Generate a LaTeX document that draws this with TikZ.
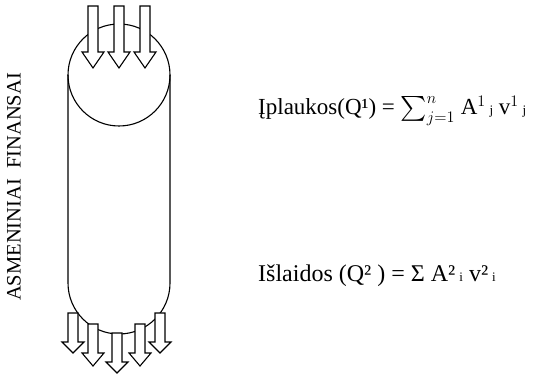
\RequirePackage{fix-cm}
\documentclass[tikz,border=0pt]{standalone}
\usepackage{exscale}
\usepackage{fontspec}
\setmainfont{Liberation Serif}
\newcommand\smalltxt[1]{{\fontsize{13}{13}\selectfont #1}}
\tikzset{
  body/.style={draw=black, line width=1.1pt},
  blockarrow/.style={draw=black, fill=white, line width=1.1pt, line join=miter},
  label/.style={inner sep=0pt, anchor=base west},
}
\newcommand\blockarr[5]{% center x, top y, head start y, tip y, name
  \draw[blockarrow] (#1-5,#2) -- (#1+5,#2) -- (#1+5,#3) -- (#1+11,#3) -- (#1,#4)
    -- (#1-11,#3) -- (#1-5,#3) -- cycle;
  \coordinate (#5) at (#1,#4);}
\begin{document}
\begin{tikzpicture}[x=1pt,y=-1pt]
\useasboundingbox (0,0) rectangle (533,374);
% body
\coordinate (c1) at (119,75);
\draw[body] (c1) circle[radius=51];
\coordinate (tl) at (68,75);
\coordinate (tr) at (170,75);
\coordinate (bl) at (68,283);
\coordinate (br) at (170,283);
\draw[body] (tl) -- (bl) arc[start angle=180, end angle=0, radius=51] -- (tr);
% top arrows
\blockarr{93}{6}{52}{68}{ta1}
\blockarr{119}{6}{52}{68}{ta2}
\blockarr{145}{6}{52}{68}{ta3}
% bottom arrows
\blockarr{73}{313}{342}{353}{ba1}
\blockarr{93}{324}{353}{366}{ba2}
\blockarr{117}{333}{362}{373}{ba3}
\blockarr{140}{324}{353}{366}{ba4}
\blockarr{160}{313}{342}{353}{ba5}
% texts
\node[label, font=\fontsize{23}{28}\selectfont] (inflow) at (258,115) {Įplaukos(Q¹) = $\sum_{j=1}^{n}$ A$^{1}$\,\smalltxt{j} v$^{1}$\,\smalltxt{j}};
\node[label, font=\fontsize{24}{29}\selectfont] (outflow) at (258,281) {Išlaidos (Q² ) = Σ A²\,\smalltxt{i} v²\,\smalltxt{i}};
\node[font=\fontsize{20.5}{25}\selectfont, rotate=90, inner sep=0pt] (title) at (14,187) {ASMENINIAI\ \ FINANSAI};
\end{tikzpicture}
\end{document}
